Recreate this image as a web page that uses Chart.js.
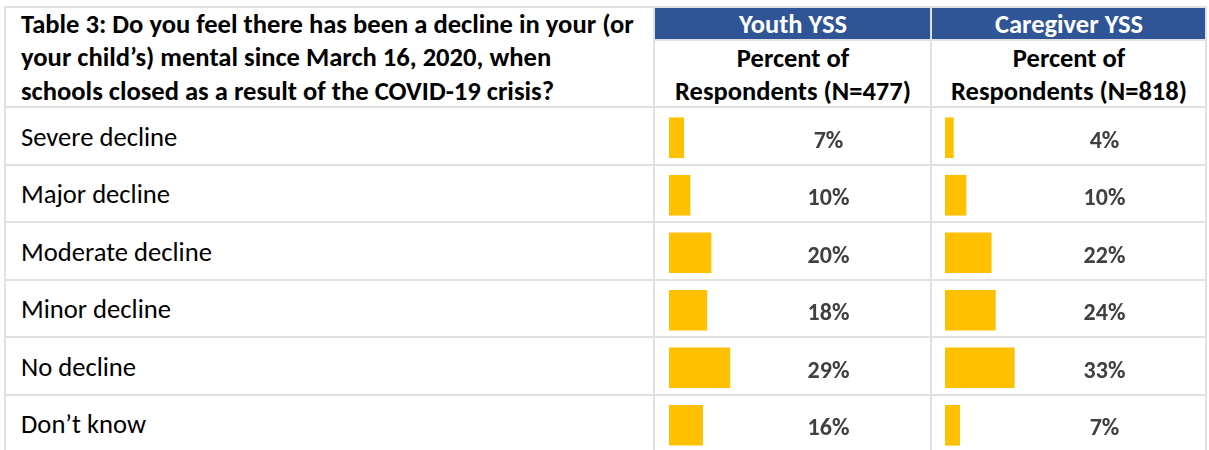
<!DOCTYPE html>
<html>
<head>
<meta charset="utf-8">
<script src="https://cdn.jsdelivr.net/npm/chart.js@4/dist/chart.umd.min.js"></script>
<style>
  html, body { margin: 0; padding: 0; background: #fff; }
  body { width: 1209px; height: 450px; overflow: hidden; position: relative; font-family: "Carlito", "Lato", sans-serif; color: #000; }
  .ln { position: absolute; background: #e1e1e1; }
  .hdr { position: absolute; background: #2f5597; color: #fff; font-weight: bold; font-size: 26.5px; text-align: center; line-height: 33px; overflow: hidden; }
  .sub { position: absolute; font-weight: bold; font-size: 26.5px; text-align: center; line-height: 33px; }
  .title { position: absolute; left: 21px; top: 8px; width: 630px; font-weight: bold; font-size: 26.6px; line-height: 33.3px; white-space: nowrap; }
  .row { position: absolute; left: 21px; font-size: 26.6px; white-space: nowrap; }
  canvas { position: absolute; }
</style>
</head>
<body>
<div class="title">Table 3: Do you feel there has been a decline in your (or<br>your child’s) mental since March 16, 2020, when<br>schools closed as a result of the COVID-19 crisis?</div>
<div class="hdr" style="left:655px; top:8px; width:276px; height:31px;">Youth YSS</div>
<div class="hdr" style="left:932px; top:8px; width:274px; height:31px;">Caregiver YSS</div>
<div class="sub" style="left:655px; top:42px; width:276px;">Percent of<br>Respondents (N=477)</div>
<div class="sub" style="left:932px; top:42px; width:274px;">Percent of<br>Respondents (N=818)</div>
<div id="rows"></div>
<div id="lines"></div>
<canvas id="youth" width="277" height="345" style="left:654px; top:109px;"></canvas>
<canvas id="care" width="275" height="345" style="left:931px; top:109px;"></canvas>
<script>
const categories = ["Severe decline", "Major decline", "Moderate decline", "Minor decline", "No decline", "Don’t know"];
const youthValues = [7, 10, 20, 18, 29, 16];
const caregiverValues = [4, 10, 22, 24, 33, 7];

const rowTop = 107, rowH = 57.5;

// table grid + row labels
const lines = document.getElementById('lines');
function ln(x, y, w, h) {
  const d = document.createElement('div');
  d.className = 'ln';
  d.style.left = x + 'px'; d.style.top = y + 'px'; d.style.width = w + 'px'; d.style.height = h + 'px';
  lines.appendChild(d);
}
ln(5, 6, 1202, 2);
ln(4, 6, 2, 450);
ln(653, 6, 2, 450);
ln(930, 6, 2, 450);
ln(1205, 6, 2, 450);
ln(653, 39, 554, 2);
const rows = document.getElementById('rows');
categories.forEach((c, i) => {
  const y = rowTop + i * rowH;
  ln(4, Math.round(y - 1), 1203, 2);
  const d = document.createElement('div');
  d.className = 'row';
  d.style.top = (y + 1.5) + 'px';
  d.style.height = rowH + 'px';
  d.style.lineHeight = rowH + 'px';
  d.textContent = c;
  rows.appendChild(d);
});

const valueLabels = {
  id: 'valueLabels',
  afterDatasetsDraw(chart) {
    const ctx = chart.ctx;
    const meta = chart.getDatasetMeta(0);
    const vals = chart.data.datasets[0].data;
    ctx.save();
    ctx.fillStyle = '#404040';
    ctx.font = 'bold 24px "Carlito", "Lato", sans-serif';
    ctx.textAlign = 'center';
    ctx.textBaseline = 'alphabetic';
    meta.data.forEach((bar, i) => {
      ctx.fillText(vals[i] + '%', chart.width / 2 + 36, bar.y + 10);
    });
    ctx.restore();
  }
};

function makeChart(id, values, padLeft) {
  const canvas = document.getElementById(id);
  new Chart(canvas, {
    type: 'bar',
    data: {
      labels: categories,
      datasets: [{
        data: values,
        backgroundColor: '#ffc000',
        borderWidth: 0,
        barThickness: 40
      }]
    },
    options: {
      indexAxis: 'y',
      responsive: false,
      animation: false,
      devicePixelRatio: 1,
      layout: { padding: { left: padLeft, right: canvas.width - padLeft - 210, top: 0, bottom: 0 } },
      plugins: { legend: { display: false }, tooltip: { enabled: false } },
      scales: {
        x: { min: 0, max: 100, display: false },
        y: { display: false, offset: true }
      }
    },
    plugins: [valueLabels]
  });
}
makeChart('youth', youthValues, 15);
makeChart('care', caregiverValues, 14);
</script>
</body>
</html>
